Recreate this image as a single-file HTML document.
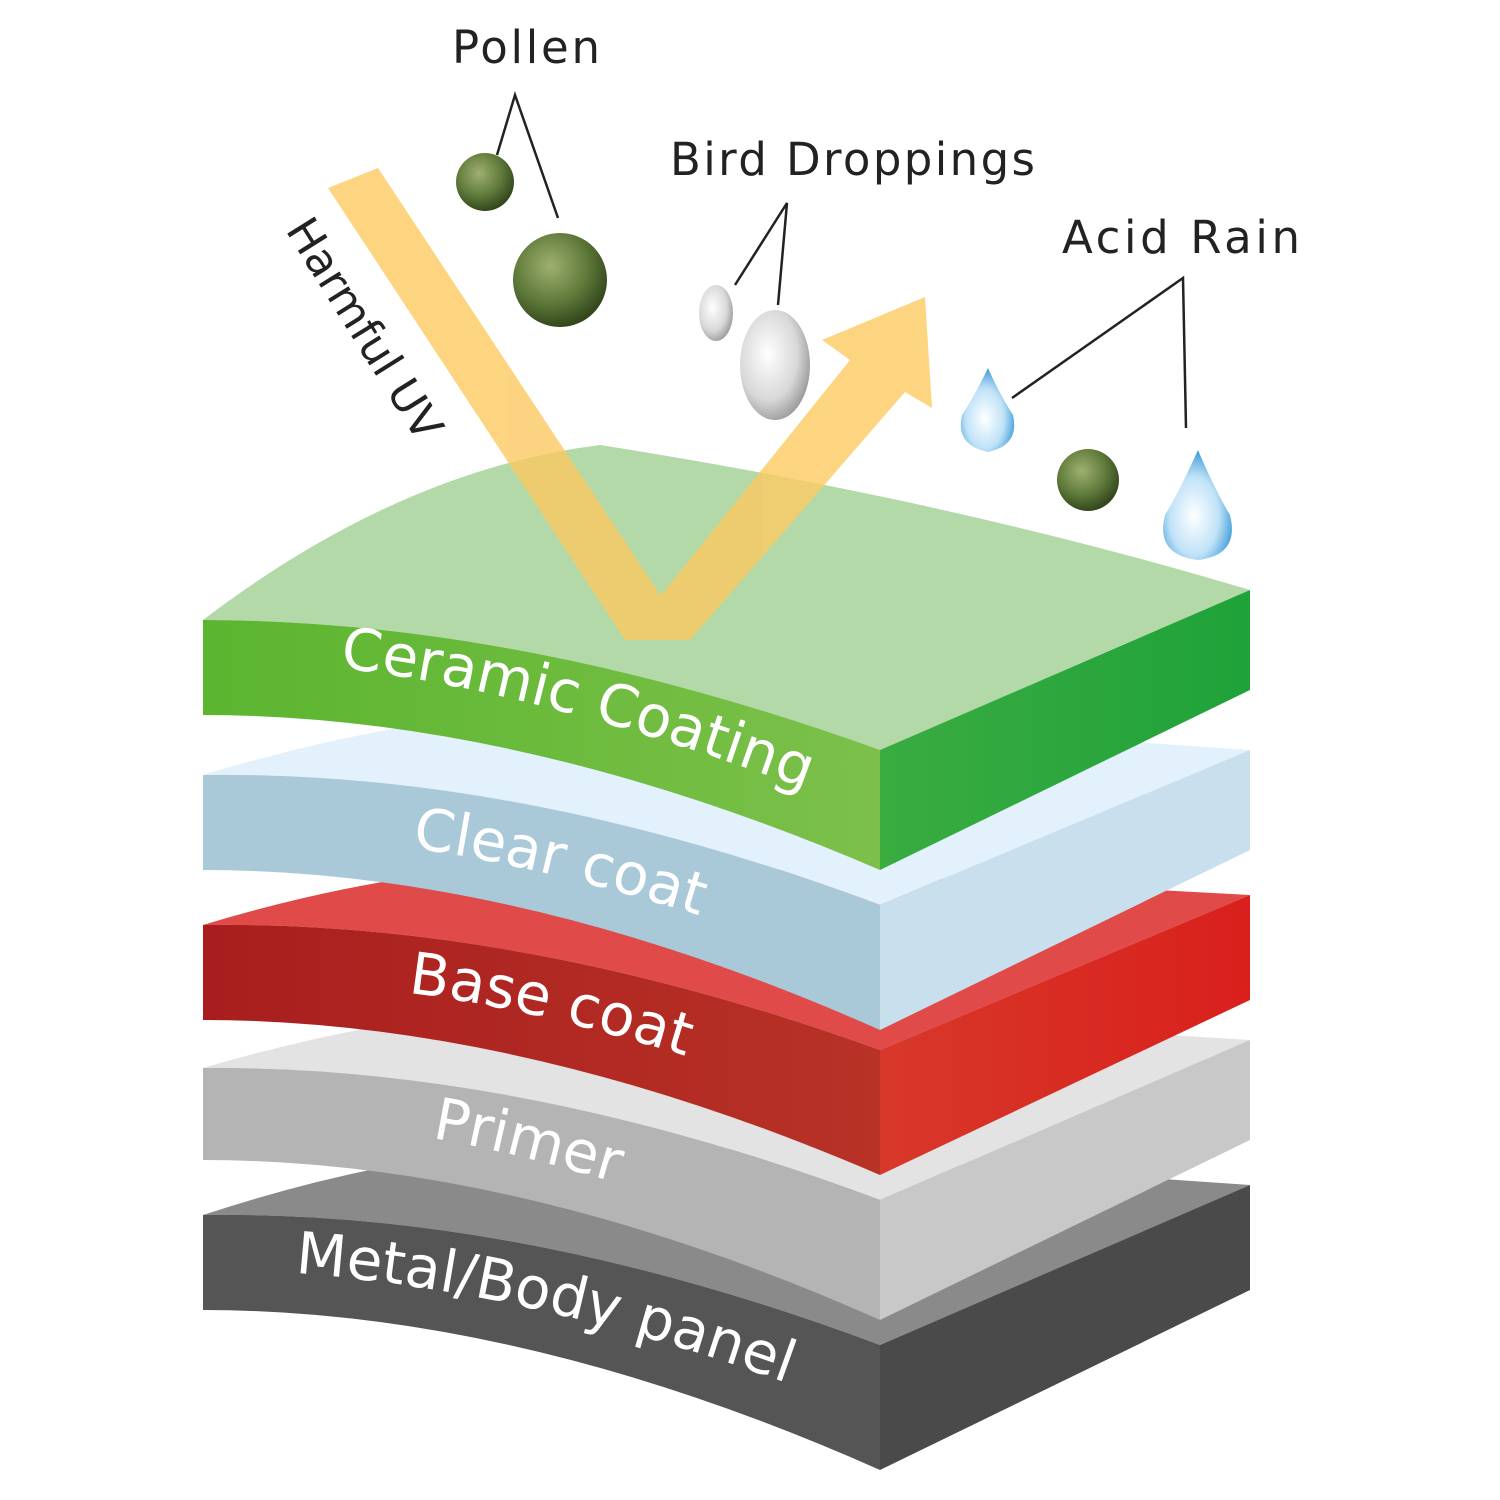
<!DOCTYPE html>
<html><head><meta charset="utf-8"><style>
html,body{margin:0;padding:0;background:#fff;width:1500px;height:1500px;overflow:hidden}
svg{display:block}
text{font-family:"DejaVu Sans","Liberation Sans",sans-serif}
</style></head><body>
<svg width="1500" height="1500" viewBox="0 0 1500 1500" xmlns="http://www.w3.org/2000/svg">
<defs>
<radialGradient id="pol" cx="40%" cy="35%" r="65%"><stop offset="0" stop-color="#9fb070"/><stop offset="0.6" stop-color="#5f7a3a"/><stop offset="1" stop-color="#34481e"/></radialGradient>
<radialGradient id="drop" cx="45%" cy="60%" r="60%"><stop offset="0" stop-color="#ffffff"/><stop offset="0.6" stop-color="#bfe2f7"/><stop offset="1" stop-color="#3c9ad8"/></radialGradient>
<radialGradient id="bird" cx="40%" cy="40%" r="70%"><stop offset="0" stop-color="#ffffff"/><stop offset="0.6" stop-color="#d8d8d8"/><stop offset="1" stop-color="#8a8a8a"/></radialGradient>
<linearGradient id="gF" x1="0" x2="1"><stop offset="0" stop-color="#5bb52f"/><stop offset="1" stop-color="#7cc04a"/></linearGradient>
<linearGradient id="gR" x1="0" x2="1"><stop offset="0" stop-color="#3aac40"/><stop offset="1" stop-color="#1fa23a"/></linearGradient>
<linearGradient id="rF" x1="0" x2="1"><stop offset="0" stop-color="#a81e1e"/><stop offset="1" stop-color="#b83226"/></linearGradient>
<linearGradient id="rR" x1="0" x2="1"><stop offset="0" stop-color="#d8382a"/><stop offset="1" stop-color="#d9201c"/></linearGradient>
<path id="t1" d="M340,668 Q560,693 860,810"/>
<path id="t2" d="M412,848 Q560,868 760,935"/>
<path id="t3" d="M408,993 Q540,1008 730,1070"/>
<path id="t4" d="M432,1138 Q520,1153 640,1190"/>
<path id="t5" d="M295,1273 Q560,1293 845,1405"/>
</defs>

<path d="M203,1215 Q400,1150 600,1140 L1250,1185 L880,1345 Q520,1210 203,1215Z" fill="#8a8a8a"/>
<path d="M203,1215 Q520,1210 880,1345 L880,1470 Q520,1310 203,1310Z" fill="#555"/>
<path d="M880,1345 L1250,1185 L1250,1290 L880,1470Z" fill="#4a4a4a"/>
<path d="M203,1068 Q400,1010 600,1000 L1250,1040 L880,1200 Q520,1065 203,1068Z" fill="#e3e3e3"/>
<path d="M203,1068 Q520,1065 880,1200 L880,1320 Q520,1160 203,1160Z" fill="#b4b4b4"/>
<path d="M880,1200 L1250,1040 L1250,1140 L880,1320Z" fill="#c8c8c8"/>
<path d="M203,925 Q400,865 600,860 L1250,895 L880,1050 Q520,920 203,925Z" fill="#e04a48"/>
<path d="M203,925 Q520,920 880,1050 L880,1175 Q520,1020 203,1020Z" fill="url(#rF)"/>
<path d="M880,1050 L1250,895 L1250,1000 L880,1175Z" fill="url(#rR)"/>
<path d="M203,775 Q400,715 600,705 L1250,750 L880,905 Q520,770 203,775Z" fill="#e2f1fb"/>
<path d="M203,775 Q520,770 880,905 L880,1030 Q520,870 203,870Z" fill="#a9c9d9"/>
<path d="M880,905 L1250,750 L1250,850 L880,1030Z" fill="#c8e0ee"/>
<path d="M203,620 Q400,470 600,445 Q950,500 1250,590 L880,750 Q520,620 203,620Z" fill="#b3d9a8"/>
<path d="M203,620 Q520,620 880,750 L880,870 Q520,715 203,715Z" fill="url(#gF)"/>
<path d="M880,750 L1250,590 L1250,690 L880,870Z" fill="url(#gR)"/>

<g fill="#fcca62" opacity="0.8">
<polygon points="328,188 378,168 690,640 625,640"/>
<polygon points="625,640 690,640 905,392 932,408 925,297 822,340 850,360"/>
</g>

<g fill="#fff" font-size="58">
<text><textPath href="#t1">Ceramic Coating</textPath></text>
<text><textPath href="#t2">Clear coat</textPath></text>
<text><textPath href="#t3">Base coat</textPath></text>
<text><textPath href="#t4">Primer</textPath></text>
<text><textPath href="#t5">Metal/Body panel</textPath></text>
</g>

<text transform="translate(285,230) rotate(58)" font-size="44" fill="#222">Harmful UV</text>

<g font-size="45" fill="#222">
<text x="452" y="63" textLength="148">Pollen</text>
<text x="670" y="175" textLength="365">Bird Droppings</text>
<text x="1062" y="253" textLength="238">Acid Rain</text>
</g>
<g stroke="#222" stroke-width="2.5" fill="none">
<polyline points="497,155 515,95 558,218"/>
<polyline points="735,285 787,203 778,305"/>
<polyline points="1012,398 1183,278 1186,428"/>
</g>

<circle cx="485" cy="182" r="29" fill="url(#pol)"/>
<circle cx="560" cy="280" r="47" fill="url(#pol)"/>
<circle cx="1088" cy="480" r="31" fill="url(#pol)"/>
<ellipse cx="716" cy="313" rx="17" ry="28" fill="url(#bird)"/>
<ellipse cx="775" cy="365" rx="35" ry="55" fill="url(#bird)"/>
<path d="M988,368 Q975,395 962,415 Q955,445 988,452 Q1020,445 1013,415 Q1000,395 988,368Z" fill="url(#drop)"/>
<path d="M1198,450 Q1180,490 1165,515 Q1155,555 1198,560 Q1240,555 1230,515 Q1215,490 1198,450Z" fill="url(#drop)"/>
</svg>
</body></html>
